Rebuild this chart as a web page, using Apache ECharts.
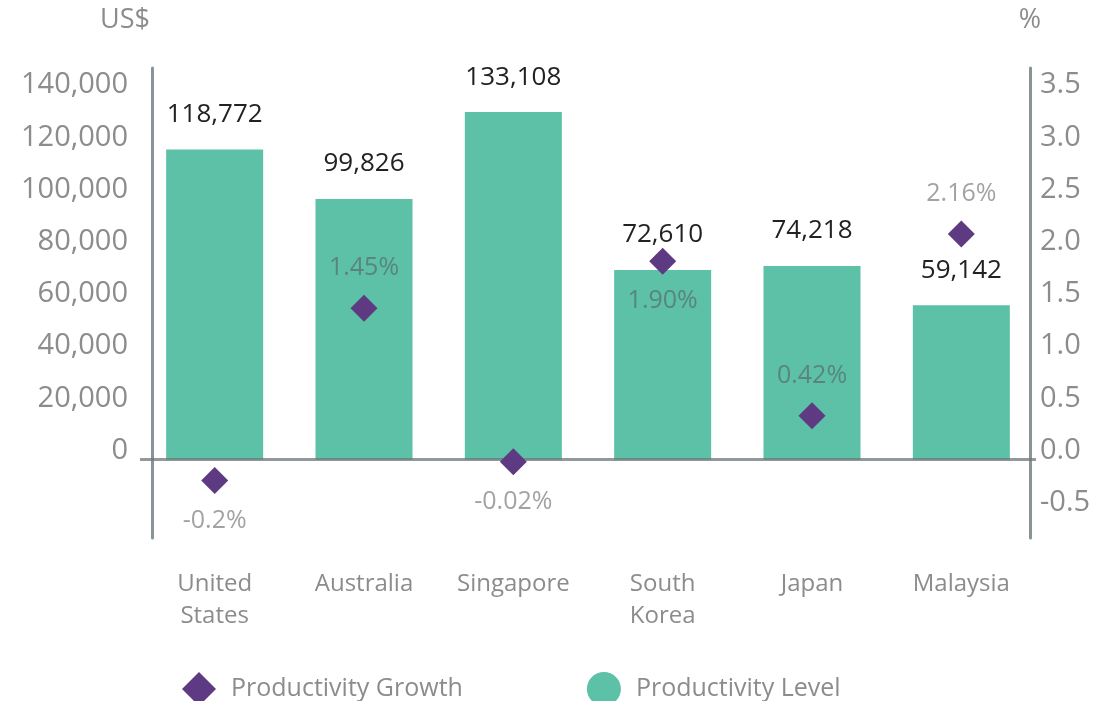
<!DOCTYPE html>
<html>
<head>
<meta charset="utf-8">
<script src="https://cdn.jsdelivr.net/npm/echarts@6/dist/echarts.min.js"></script>
<style>
  html, body { margin: 0; padding: 0; background: #fff; }
  #chart { width: 1099px; height: 701px; }
</style>
</head>
<body>
<div id="chart"></div>
<script>
  var categories = ['United\nStates', 'Australia', 'Singapore', 'South\nKorea', 'Japan', 'Malaysia'];
  var productivityLevel = [118772, 99826, 133108, 72610, 74218, 59142];
  var productivityGrowth = [-0.2, 1.45, -0.02, 1.90, 0.42, 2.16];
  var growthText = ['-0.2%', '1.45%', '-0.02%', '1.90%', '0.42%', '2.16%'];
  var leftTicks = [0, 20000, 40000, 60000, 80000, 100000, 120000, 140000];
  var rightTicks = [-0.5, 0, 0.5, 1, 1.5, 2, 2.5, 3, 3.5];

  // which side of the diamond the growth label sits on
  var labelSide = ['bottom', 'top', 'bottom', 'bottom', 'top', 'top'];

  var font = '"Open Sans", "Noto Sans", sans-serif';
  var gray = '#8c8c8c';
  var axisColor = '#8a9396';

  var myChart = echarts.init(document.getElementById('chart'));

  var growthData = productivityGrowth.map(function (v, i) {
    return {
      value: v,
      label: { position: labelSide[i], formatter: growthText[i] }
    };
  });

  var option = {
    backgroundColor: '#fff',
    textStyle: { fontFamily: font },
    grid: { left: 140, right: 63, top: 68, bottom: 163 },
    legend: {
      left: 177,
      top: 667,
      itemWidth: 34,
      itemHeight: 34,
      itemGap: 124,
      textStyle: { color: gray, fontSize: 25, fontFamily: font, padding: [0, 0, 0, 10] },
      data: [
        { name: 'Productivity Growth', icon: 'diamond' },
        { name: 'Productivity Level', icon: 'circle' }
      ]
    },
    xAxis: {
      type: 'category',
      data: categories,
      axisLine: { show: false },
      axisTick: { show: false },
      axisLabel: { color: gray, fontSize: 24, lineHeight: 32, margin: 30, fontFamily: font }
    },
    yAxis: [
      {
        type: 'value',
        min: -30000,
        max: 150000,
        offset: -12,
        name: 'US$',
        nameLocation: 'end',
        nameGap: 34,
        nameTextStyle: { color: gray, fontSize: 27, align: 'right', padding: [0, 2, 0, 0], fontFamily: font },
        splitLine: { show: false },
        axisTick: { show: false },
        axisLine: { show: true, lineStyle: { color: axisColor, width: 3 } },
        axisLabel: {
          customValues: leftTicks,
          color: gray,
          fontSize: 29,
          margin: 24,
          verticalAlign: 'bottom',
          lineHeight: 18,
          fontFamily: font,
          formatter: function (v) { return v.toLocaleString('en-US'); }
        }
      },
      {
        type: 'value',
        min: -0.75,
        max: 3.75,
        offset: -6,
        position: 'right',
        name: '%',
        nameLocation: 'end',
        nameGap: 34,
        nameTextStyle: { color: gray, fontSize: 27, fontFamily: font },
        splitLine: { show: false },
        axisTick: { show: false },
        axisLine: { show: true, lineStyle: { color: axisColor, width: 3 } },
        axisLabel: {
          customValues: rightTicks,
          color: gray,
          fontSize: 29,
          margin: 10,
          verticalAlign: 'bottom',
          lineHeight: 18,
          fontFamily: font,
          formatter: function (v) { return v.toFixed(1); }
        }
      }
    ],
    series: [
      {
        name: 'Productivity Level',
        type: 'bar',
        yAxisIndex: 0,
        barWidth: 97,
        data: productivityLevel,
        itemStyle: { color: '#5cc1a6' },
        label: {
          show: true,
          position: 'top',
          distance: 22,
          color: '#222',
          fontSize: 26,
          fontFamily: font,
          formatter: function (p) { return p.value.toLocaleString('en-US'); }
        },
        markLine: {
          silent: true,
          symbol: 'none',
          label: { show: false },
          lineStyle: { color: 'rgba(110,118,122,0.75)', width: 3, type: 'solid' },
          data: [{ yAxis: 0 }]
        }
      },
      {
        name: 'Productivity Growth',
        type: 'scatter',
        yAxisIndex: 1,
        symbol: 'diamond',
        symbolSize: 27,
        data: growthData,
        itemStyle: { color: '#5e3a82', opacity: 1 },
        label: {
          show: true,
          distance: 14,
          color: 'rgba(85,85,85,0.55)',
          fontSize: 25,
          fontFamily: font
        },
        z: 5
      }
    ]
  };

  myChart.setOption(option);
</script>
</body>
</html>
